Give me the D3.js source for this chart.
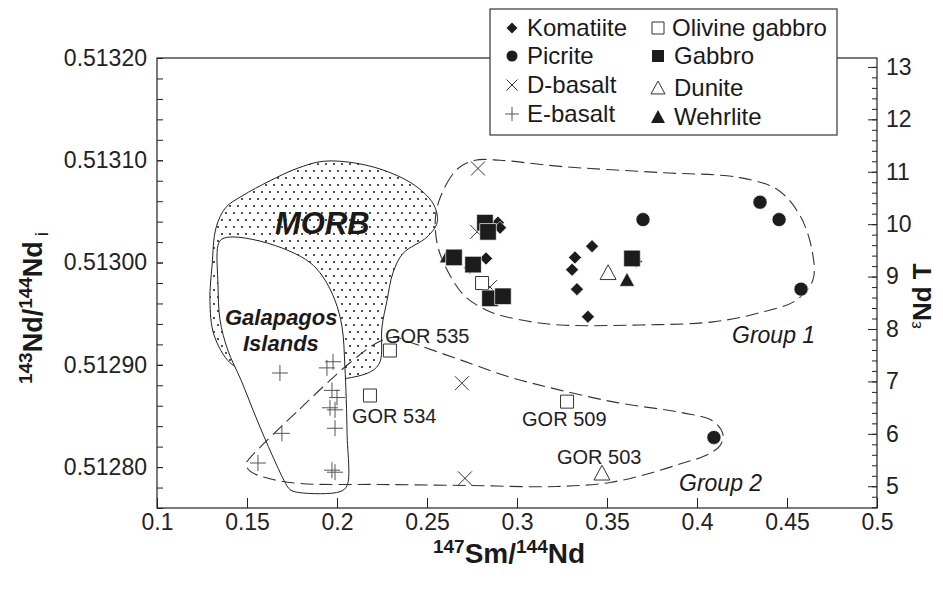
<!DOCTYPE html>
<html>
<head>
<meta charset="utf-8">
<script src="https://cdn.jsdelivr.net/npm/d3@7"></script>
<style>
  html, body { margin: 0; padding: 0; background: #fff; }
  svg { display: block; font-family: "Liberation Sans", Arial, Helvetica, sans-serif; }
</style>
</head>
<body>
<svg id="chart" width="943" height="592"></svg>
<script>
// ---- Sm–Nd isotope data: [147Sm/144Nd, initial 143Nd/144Nd] ----
const komatiite = [
  [0.3417, 0.513016], [0.3322, 0.513005], [0.3306, 0.512993], [0.3333, 0.512974],
  [0.3394, 0.512947], [0.2894, 0.513039], [0.2906, 0.513034], [0.2828, 0.513004],
  [0.2739, 0.512995], [0.3661, 0.513001]
];
const picrite = [
  [0.3700, 0.513042], [0.4350, 0.513059], [0.4456, 0.513042], [0.4578, 0.512974],
  [0.4094, 0.512829]
];
const dBasalt = [
  [0.2783, 0.513092], [0.2778, 0.513030], [0.2850, 0.512976], [0.2694, 0.512882],
  [0.2711, 0.512789]
];
const eBasalt = [
  [0.1683, 0.512892], [0.1944, 0.512897], [0.1978, 0.512903], [0.1972, 0.512875],
  [0.2000, 0.512868], [0.1961, 0.512858], [0.1989, 0.512856], [0.1989, 0.512838],
  [0.1694, 0.512833], [0.1561, 0.512804], [0.1972, 0.512797], [0.1989, 0.512795]
];
const olivineGabbro = [
  [0.2806, 0.512980], [0.2294, 0.512914], [0.2183, 0.512870], [0.3278, 0.512864]
];
const gabbro = [
  [0.2822, 0.513039], [0.2839, 0.513030], [0.2650, 0.513005], [0.2756, 0.512998],
  [0.2850, 0.512965], [0.2922, 0.512967], [0.3639, 0.513004]
];
const dunite = [[0.3506, 0.512990], [0.3472, 0.512794]];
const wehrlite = [[0.3611, 0.512983], [0.2611, 0.513006]];

// Named samples
const sampleNames = ["GOR 535", "GOR 534", "GOR 509", "GOR 503"];
const samplePoints = [[0.2294, 0.512914], [0.2183, 0.512870], [0.3278, 0.512864], [0.3472, 0.512794]];

// Field outlines
const morbField = [
  [0.1406, 0.512902], [0.1317, 0.512929], [0.1294, 0.512963], [0.1306, 0.512997],
  [0.1328, 0.513034], [0.1383, 0.513054], [0.1472, 0.513065], [0.1628, 0.513080],
  [0.1778, 0.513092], [0.1922, 0.513099], [0.2111, 0.513097], [0.2294, 0.513088],
  [0.2444, 0.513074], [0.2539, 0.513056], [0.2556, 0.513039], [0.2500, 0.513025],
  [0.2367, 0.513009], [0.2311, 0.512990], [0.2278, 0.512963], [0.2250, 0.512937],
  [0.2239, 0.512903], [0.2194, 0.512894], [0.2061, 0.512887], [0.1794, 0.512885],
  [0.1517, 0.512893]
];
const galapagosField = [
  [0.1339, 0.513017], [0.1361, 0.513023], [0.1422, 0.513025], [0.1572, 0.513021],
  [0.1739, 0.513011], [0.1850, 0.513000], [0.1922, 0.512986], [0.1989, 0.512963],
  [0.2028, 0.512937], [0.2044, 0.512898], [0.2056, 0.512833], [0.2056, 0.512782],
  [0.2017, 0.512776], [0.1794, 0.512775], [0.1739, 0.512778], [0.1706, 0.512787],
  [0.1639, 0.512812], [0.1556, 0.512846], [0.1467, 0.512885], [0.1394, 0.512914],
  [0.1350, 0.512944], [0.1339, 0.512978]
];
const group1Field = [
  [0.2550, 0.513049], [0.2606, 0.513076], [0.2672, 0.513092], [0.2767, 0.513100],
  [0.2906, 0.513100], [0.3239, 0.513094], [0.3794, 0.513088], [0.4239, 0.513083],
  [0.4450, 0.513071], [0.4572, 0.513046], [0.4639, 0.513012], [0.4644, 0.512983],
  [0.4550, 0.512963], [0.4350, 0.512951], [0.4089, 0.512942], [0.3683, 0.512939],
  [0.3239, 0.512939], [0.3017, 0.512944], [0.2850, 0.512952], [0.2711, 0.512967],
  [0.2611, 0.512993], [0.2556, 0.513019]
];
const group2Field = [
  [0.1517, 0.512809], [0.1794, 0.512857], [0.2072, 0.512902], [0.2228, 0.512922],
  [0.2322, 0.512927], [0.2406, 0.512922], [0.2683, 0.512905], [0.2961, 0.512888],
  [0.3222, 0.512876], [0.3556, 0.512863], [0.3922, 0.512853], [0.4089, 0.512845],
  [0.4144, 0.512832], [0.4128, 0.512821], [0.4044, 0.512811], [0.3922, 0.512804],
  [0.3739, 0.512794], [0.3517, 0.512785], [0.3222, 0.512781], [0.2739, 0.512782],
  [0.2239, 0.512783], [0.1794, 0.512784], [0.1617, 0.512789], [0.1517, 0.512796],
  [0.1494, 0.512803]
];

// Axis ticks
const xTicks = [0.1, 0.15, 0.2, 0.25, 0.3, 0.35, 0.4, 0.45, 0.5];
const yTicks = [0.5128, 0.5129, 0.5130, 0.5131, 0.5132];
const epsTicks = [5, 6, 7, 8, 9, 10, 11, 12, 13];

// Legend entries
const legendCol1 = ["Komatiite", "Picrite", "D-basalt", "E-basalt"];
const legendCol2 = ["Olivine gabbro", "Gabbro", "Dunite", "Wehrlite"];

// ---- layout ----
const svg = d3.select("#chart");
const W = 943, H = 592;
const plotL = 157, plotR = 877, plotT = 58, plotB = 508;
const ink = "#1c1c1c";

svg.append("rect").attr("width", W).attr("height", H).attr("fill", "#fff");

const x = d3.scaleLinear().domain([0.1, 0.5]).range([plotL, plotR]);
const y = d3.scaleLinear().domain([0.51276, 0.5132]).range([plotB, plotT]);
// epsilon Nd relative to CHUR at the age of the suite
const churT = 0.512525;
const eps = d3.scaleLinear()
  .domain(y.domain().map(r => (r / churT - 1) * 1e4))
  .range(y.range());

// dotted fill for MORB field
const defs = svg.append("defs");
const pat = defs.append("pattern").attr("id", "dots")
  .attr("patternUnits", "userSpaceOnUse").attr("width", 8).attr("height", 14);
pat.append("circle").attr("cx", 2).attr("cy", 3).attr("r", 1.05).attr("fill", "#222");
pat.append("circle").attr("cx", 6).attr("cy", 10).attr("r", 1.05).attr("fill", "#222");

const closedLine = d3.line()
  .x(d => x(d[0])).y(d => y(d[1]))
  .curve(d3.curveCatmullRomClosed.alpha(0.5));

const fields = svg.append("g");
fields.append("path").attr("d", closedLine(morbField))
  .attr("fill", "url(#dots)").attr("stroke", "#222").attr("stroke-width", 1);
fields.append("path").attr("d", closedLine(galapagosField))
  .attr("fill", "#fff").attr("stroke", "#222").attr("stroke-width", 1);
fields.append("path").attr("d", closedLine(group1Field))
  .attr("fill", "none").attr("stroke", "#333").attr("stroke-width", 1.1)
  .attr("stroke-dasharray", "13,6");
fields.append("path").attr("d", closedLine(group2Field))
  .attr("fill", "none").attr("stroke", "#333").attr("stroke-width", 1.1)
  .attr("stroke-dasharray", "13,6");

// ---- marker shapes ----
function shapePath(type, s) {
  const p = d3.path();
  switch (type) {
    case "diamond":
      p.moveTo(0, -s); p.lineTo(s, 0); p.lineTo(0, s); p.lineTo(-s, 0); p.closePath(); break;
    case "circle":
      p.moveTo(s, 0); p.arc(0, 0, s, 0, 2 * Math.PI); p.closePath(); break;
    case "square":
      p.rect(-s, -s, 2 * s, 2 * s); break;
    case "triangle":
      p.moveTo(0, -s); p.lineTo(s * 1.0, s * 0.85); p.lineTo(-s * 1.0, s * 0.85); p.closePath(); break;
    case "times":
      p.moveTo(-s, -s); p.lineTo(s, s); p.moveTo(-s, s); p.lineTo(s, -s); break;
    case "plus":
      p.moveTo(-s, 0); p.lineTo(s, 0); p.moveTo(0, -s); p.lineTo(0, s); break;
  }
  return p.toString();
}

const styles = {
  Komatiite:        { type: "diamond",  size: 6.5, fill: ink,  stroke: "#fff", sw: 0.6, ls: 5.5 },
  Picrite:          { type: "circle",   size: 7,   fill: ink,  stroke: "#fff", sw: 0.6, ls: 5.5 },
  "D-basalt":       { type: "times",    size: 7,   fill: "none", stroke: "#333", sw: 1, ls: 5.5 },
  "E-basalt":       { type: "plus",     size: 8,   fill: "none", stroke: "#555", sw: 1, ls: 7 },
  "Olivine gabbro": { type: "square",   size: 6.5, fill: "#fff", stroke: "#333", sw: 1, ls: 6 },
  Gabbro:           { type: "square",   size: 8.3, fill: ink,  stroke: "#fff", sw: 0.7, ls: 6 },
  Dunite:           { type: "triangle", size: 8,   fill: "#fff", stroke: "#333", sw: 1, ls: 7 },
  Wehrlite:         { type: "triangle", size: 7.5, fill: ink,  stroke: "#fff", sw: 0.5, ls: 7 }
};

// draw order: back to front
const layers = [
  ["Komatiite", komatiite], ["Wehrlite", wehrlite], ["D-basalt", dBasalt],
  ["E-basalt", eBasalt], ["Olivine gabbro", olivineGabbro], ["Dunite", dunite],
  ["Picrite", picrite], ["Gabbro", gabbro]
];
const pts = svg.append("g");
layers.forEach(([name, data]) => {
  const st = styles[name];
  pts.append("g").selectAll("path").data(data).join("path")
    .attr("transform", d => `translate(${x(d[0])},${y(d[1])})`)
    .attr("d", shapePath(st.type, st.size))
    .attr("fill", st.fill).attr("stroke", st.stroke).attr("stroke-width", st.sw);
});

// sample labels
const labelOffsets = [[-5, -15], [-18, 20], [-45, 17], [-45, -16]];
svg.append("g").selectAll("text").data(sampleNames).join("text")
  .attr("x", (d, i) => x(samplePoints[i][0]) + labelOffsets[i][0])
  .attr("y", (d, i) => y(samplePoints[i][1]) + labelOffsets[i][1])
  .attr("dy", "0.35em")
  .attr("font-size", 20).attr("fill", "#222")
  .text(d => d);

// field names
const fieldText = svg.append("g").attr("fill", "#1a1a1a");
fieldText.append("text").attr("x", 275).attr("y", 234)
  .attr("font-size", 31).attr("font-weight", "bold").attr("font-style", "italic").text("MORB");
fieldText.append("text").attr("x", 225).attr("y", 325)
  .attr("font-size", 22).attr("font-weight", "bold").attr("font-style", "italic").text("Galapagos");
fieldText.append("text").attr("x", 243).attr("y", 351)
  .attr("font-size", 22).attr("font-weight", "bold").attr("font-style", "italic").text("Islands");
fieldText.append("text").attr("x", 732).attr("y", 343)
  .attr("font-size", 23).attr("font-style", "italic").text("Group 1");
fieldText.append("text").attr("x", 679).attr("y", 491)
  .attr("font-size", 23).attr("font-style", "italic").text("Group 2");

// ---- axes ----
const fmtX = d3.format(".2~f");
const fmtY = d3.format(".5f");

function styleAxis(g) {
  g.select(".domain").remove();
  g.selectAll(".tick line").attr("stroke", "#222").attr("stroke-width", 1);
  g.selectAll(".tick text").attr("fill", "#222").attr("font-size", 23)
    .attr("font-family", "'Liberation Sans', Arial, sans-serif");
}

// left axis: majors labelled, minors every 0.00002
const yMinor = d3.range(0, 23).map(i => 0.51276 + i * 0.00002).filter(v => v <= 0.5132 + 1e-9);
svg.append("g").attr("transform", `translate(${plotL},0)`)
  .call(d3.axisLeft(y).tickValues(yMinor).tickSize(-6).tickFormat(""))
  .call(styleAxis);
svg.append("g").attr("transform", `translate(${plotL},0)`)
  .call(d3.axisLeft(y).tickValues(yTicks).tickSize(-6).tickPadding(10).tickFormat(fmtY))
  .call(styleAxis);

// right axis: epsilon Nd
const epsMinor = d3.range(0, 44).map(i => 4.6 + i * 0.2)
  .filter(v => v >= eps.domain()[0] && v <= eps.domain()[1]);
svg.append("g").attr("transform", `translate(${plotR},0)`)
  .call(d3.axisRight(eps).tickValues(epsMinor).tickSize(-5).tickFormat(""))
  .call(styleAxis);
svg.append("g").attr("transform", `translate(${plotR},0)`)
  .call(d3.axisRight(eps).tickValues(epsTicks).tickSize(-9).tickPadding(9).tickFormat(d3.format("d")))
  .call(styleAxis);

// bottom axis
svg.append("g").attr("transform", `translate(0,${plotB})`)
  .call(d3.axisBottom(x).tickValues(xTicks).tickSize(-10).tickPadding(6).tickFormat(fmtX))
  .call(styleAxis);

// frame
svg.append("rect").attr("x", plotL).attr("y", plotT)
  .attr("width", plotR - plotL).attr("height", plotB - plotT)
  .attr("fill", "none").attr("stroke", "#222").attr("stroke-width", 1.2);

// axis titles
const bt = svg.append("text").attr("x", (plotL + plotR) / 2 - 8).attr("y", 563)
  .attr("text-anchor", "middle").attr("font-weight", "bold").attr("font-size", 28).attr("fill", "#1a1a1a");
bt.append("tspan").attr("font-size", 19).attr("dy", -10).text("147");
bt.append("tspan").attr("dy", 10).text("Sm/");
bt.append("tspan").attr("font-size", 19).attr("dy", -10).text("144");
bt.append("tspan").attr("dy", 10).text("Nd");

const lt = svg.append("text").attr("transform", "translate(42,308) rotate(-90)")
  .attr("text-anchor", "middle").attr("font-weight", "bold").attr("font-size", 27).attr("fill", "#1a1a1a");
lt.append("tspan").attr("font-size", 19).attr("dy", -10).text("143");
lt.append("tspan").attr("dy", 10).text("Nd/");
lt.append("tspan").attr("font-size", 19).attr("dy", -10).text("144");
lt.append("tspan").attr("dy", 10).text("Nd");
lt.append("tspan").attr("font-size", 19).attr("font-weight", "normal").attr("dx", 5).attr("dy", 6).text("i");

const rt = svg.append("text").attr("transform", "translate(931,296) rotate(-90)")
  .attr("text-anchor", "middle").attr("font-weight", "bold").attr("font-size", 26).attr("fill", "#1a1a1a");
rt.append("tspan").attr("font-size", 17).attr("font-weight", "normal").attr("dy", -10).text("ε");
rt.append("tspan").attr("dy", 10).text("Nd T");

// ---- legend ----
const lg = svg.append("g");
lg.append("rect").attr("x", 490).attr("y", 9).attr("width", 347).attr("height", 126)
  .attr("fill", "#fff").attr("stroke", "#444").attr("stroke-width", 1.3);
const rows1 = [28, 56, 85, 114], rows2 = [28, 56, 88, 117];
function legendItem(name, mx, tx, ry) {
  const st = styles[name];
  lg.append("path").attr("transform", `translate(${mx},${ry})`)
    .attr("d", shapePath(st.type, st.ls))
    .attr("fill", st.fill).attr("stroke", st.fill === ink ? "none" : st.stroke)
    .attr("stroke-width", st.sw);
  lg.append("text").attr("x", tx).attr("y", ry).attr("dy", "0.35em")
    .attr("font-size", 24).attr("fill", "#1a1a1a").text(name);
}
legendCol1.forEach((n, i) => legendItem(n, 512, 527, rows1[i]));
legendCol2.forEach((n, i) => legendItem(n, 658, n === "Olivine gabbro" ? 672 : 674, rows2[i]));
</script>
</body>
</html>
